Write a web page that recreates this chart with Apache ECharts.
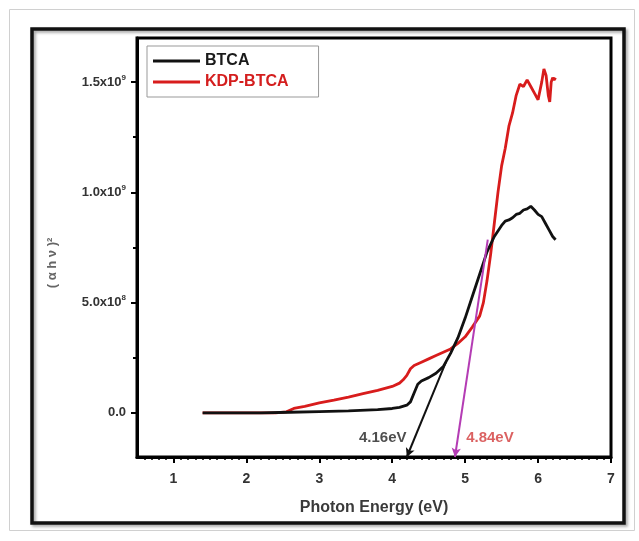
<!DOCTYPE html>
<html><head><meta charset="utf-8">
<script src="https://cdn.jsdelivr.net/npm/echarts@6/dist/echarts.min.js"></script>
<style>html,body{margin:0;padding:0;background:#fff;}#c{width:639px;height:541px;}</style>
</head><body><div id="c"></div>
<script>
// ---- data ----
var btcaX = [1.4,1.8,2.2,2.6,3.0,3.4,3.8,4.0,4.1,4.2,4.25,4.3,4.35,4.4,4.5,4.6,4.7,4.8,4.9,5.0,5.1,5.2,5.3,5.4,5.5,5.55,5.6,5.65,5.7,5.75,5.8,5.85,5.9,5.95,6.0,6.05,6.1,6.15,6.2,6.24];
var btcaY = [0,0,0,0.003,0.006,0.009,0.015,0.02,0.025,0.035,0.05,0.09,0.13,0.145,0.16,0.18,0.21,0.27,0.34,0.43,0.53,0.63,0.73,0.8,0.85,0.87,0.875,0.885,0.9,0.905,0.92,0.925,0.937,0.92,0.9,0.89,0.86,0.83,0.8,0.785];
var kdpX = [1.4,2.0,2.4,2.55,2.65,2.8,3.0,3.2,3.4,3.6,3.8,4.0,4.1,4.15,4.2,4.25,4.3,4.4,4.5,4.6,4.7,4.8,4.9,5.0,5.1,5.2,5.25,5.3,5.35,5.4,5.45,5.5,5.55,5.6,5.65,5.7,5.75,5.8,5.85,5.9,5.95,6.0,6.05,6.08,6.11,6.14,6.16,6.18,6.2,6.22,6.24];
var kdpY = [0,0,0,0.005,0.02,0.03,0.045,0.058,0.072,0.087,0.102,0.12,0.135,0.15,0.17,0.2,0.215,0.23,0.245,0.26,0.275,0.29,0.315,0.345,0.39,0.44,0.5,0.6,0.72,0.86,1.0,1.12,1.2,1.3,1.36,1.44,1.49,1.48,1.51,1.48,1.45,1.42,1.5,1.56,1.53,1.44,1.41,1.5,1.52,1.51,1.52];
var scale = 1e9;
var tangentBTCA = [[4.74, 0.234], [4.20, -0.2]];
var tangentKDP = [[5.31, 0.786], [4.86, -0.2]];
var annotations = [[3.87, -0.113, '4.16eV'], [5.34, -0.113, '4.84eV']];
var xTickLabels = [1,2,3,4,5,6,7];
var yTickValues = [0, 0.5, 1.0, 1.5];
var yTickLabels = ['0.0', '5.0x10|8', '1.0x10|9', '1.5x10|9'];
var yMinorTicks = [0.25, 0.75, 1.25];
var legendNames = ['BTCA', 'KDP-BTCA'];

// ---- build ----
function pairs(xs, ys){ return xs.map(function(x,i){ return [x, ys[i]*scale]; }); }
var xMinor = []; for (var k = 6; k <= 69; k++) { if (k % 10 !== 0) xMinor.push(k/10); }
var yLabelMap = {}; yTickValues.forEach(function(v,i){ yLabelMap[v*scale] = yTickLabels[i]; });
var font = '"Liberation Sans", Arial, sans-serif';

var chart = echarts.init(document.getElementById('c'), null, {renderer:'canvas'});
chart.setOption({
  animation: false,
  backgroundColor: '#fff',
  graphic: [
    {type:'rect', shape:{x:9.5,y:9.5,width:625,height:521}, style:{fill:'none', stroke:'#d0d0d0', lineWidth:1}, z:-1},
    {type:'rect', shape:{x:32,y:29,width:592,height:494}, style:{fill:'none', stroke:'#111', lineWidth:3.5, shadowColor:'rgba(0,0,0,0.35)', shadowBlur:3, shadowOffsetX:2, shadowOffsetY:2}, z:-1},
    {type:'text', x:52, y:263, rotation:Math.PI/2, style:{text:'( α h ν )²', fill:'#666', font:'bold 13px "Liberation Sans", Arial, sans-serif', align:'center', verticalAlign:'middle'}}
  ],
  grid: {left:137, right:28, top:38, bottom:84, show:true, borderColor:'#000', borderWidth:3, backgroundColor:'transparent'},
  legend: {
    data: [{name:legendNames[0], textStyle:{color:'#1a1a1a'}}, {name:legendNames[1], textStyle:{color:'#d41e1e'}}],
    orient:'vertical', left:147, top:46, padding:[7,30,7,6], itemGap:5,
    itemWidth:47, itemHeight:3, icon:'rect', itemTextGap:2,
    borderColor:'#999', borderWidth:1, backgroundColor:'#fff',
    textStyle:{fontFamily:font, fontWeight:'bold', fontSize:16}
  },
  xAxis: [
    {type:'value', min:0.5, max:7, position:'bottom',
     axisLine:{show:true, onZero:false, lineStyle:{color:'#000', width:3}},
     axisTick:{show:true, customValues:xTickLabels, length:6, inside:false, lineStyle:{color:'#000', width:2}},
     axisLabel:{show:true, customValues:xTickLabels, margin:15, color:'#333', fontFamily:font, fontWeight:'bold', fontSize:14},
     splitLine:{show:false},
     name:'Photon Energy (eV)', nameLocation:'middle', nameGap:43,
     nameTextStyle:{color:'#3a3a3a', fontFamily:font, fontWeight:'bold', fontSize:16}},
    {type:'value', min:0.5, max:7, position:'bottom',
     axisLine:{show:false, onZero:false},
     axisTick:{show:true, customValues:xMinor, length:3, lineStyle:{color:'#000', width:1.5}},
     axisLabel:{show:false}, splitLine:{show:false}}
  ],
  yAxis: [
    {type:'value', min:-0.2*scale, max:1.7*scale, position:'left',
     axisLine:{show:true, onZero:false, lineStyle:{color:'#000', width:3}},
     axisTick:{show:true, customValues:yTickValues.map(function(v){return v*scale;}), length:6, lineStyle:{color:'#000', width:2}},
     axisLabel:{show:true, customValues:yTickValues.map(function(v){return v*scale;}), margin:11,
       formatter:function(v){ var s = yLabelMap[v]; if (s === undefined) return ''; var p = s.split('|'); return p.length>1 ? '{a|'+p[0]+'}{s|'+p[1]+'}' : '{a|'+p[0]+'}'; },
       rich:{a:{color:'#333', fontFamily:font, fontWeight:'bold', fontSize:13}, s:{color:'#333', fontFamily:font, fontWeight:'bold', fontSize:8, verticalAlign:'top', padding:[0,0,9,0]}}},
     splitLine:{show:false}},
    {type:'value', min:-0.2*scale, max:1.7*scale, position:'left',
     axisLine:{show:false, onZero:false},
     axisTick:{show:true, customValues:yMinorTicks.map(function(v){return v*scale;}), length:4, lineStyle:{color:'#000', width:2}},
     axisLabel:{show:false}, splitLine:{show:false}}
  ],
  series: [
    {name:legendNames[0], type:'line', data:pairs(btcaX, btcaY), showSymbol:false, symbol:'none',
     lineStyle:{color:'#111', width:2.8}, itemStyle:{color:'#111'}, z:3,
     markLine:{silent:true, symbol:['none','arrow'], symbolSize:[7,9], label:{show:false},
       lineStyle:{color:'#111', width:2, type:'solid'},
       data:[[{coord:[tangentBTCA[0][0], tangentBTCA[0][1]*scale]}, {coord:[tangentBTCA[1][0], tangentBTCA[1][1]*scale]}]]}},
    {name:legendNames[1], type:'line', data:pairs(kdpX, kdpY), showSymbol:false, symbol:'none',
     lineStyle:{color:'#d81c1c', width:2.8}, itemStyle:{color:'#d81c1c'}, z:2,
     markLine:{silent:true, symbol:['none','arrow'], symbolSize:[7,9], label:{show:false},
       lineStyle:{color:'#b43cb4', width:2, type:'solid'},
       data:[[{coord:[tangentKDP[0][0], tangentKDP[0][1]*scale]}, {coord:[tangentKDP[1][0], tangentKDP[1][1]*scale]}]]}},
    {name:'annot', type:'scatter', symbolSize:0, silent:true,
     data: annotations.map(function(a,i){ return {value:[a[0], a[1]*scale, a[2]], label:{color: i===0 ? '#222' : '#d23a3a'}}; }),
     label:{show:true, position:'inside', formatter:function(p){return p.value[2];}, fontFamily:font, fontWeight:'bold', fontSize:15}}
  ]
});
</script>
</body></html>
